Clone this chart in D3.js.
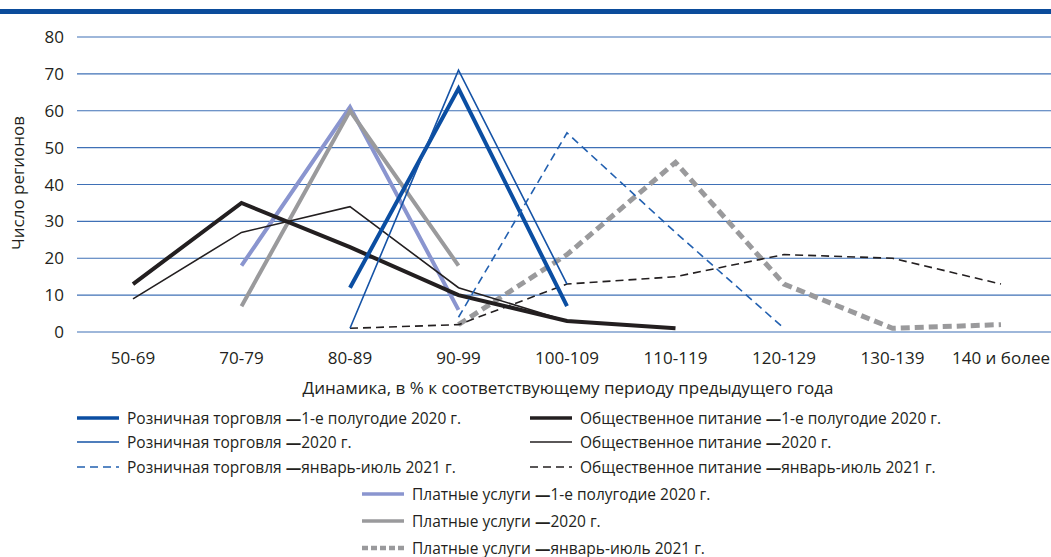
<!DOCTYPE html>
<html>
<head>
<meta charset="utf-8">
<script src="https://cdn.jsdelivr.net/npm/d3@7"></script>
<style>
  body { margin: 0; background: #fff; }
  svg text { font-family: "Open Sans", "Noto Sans", sans-serif; fill: #231f20; }
</style>
</head>
<body>
<div id="chart"></div>
<script>
// категории по оси X
const categories = ['50-69', '70-79', '80-89', '90-99', '100-109', '110-119', '120-129', '130-139', '140 и более']
const yTicks = [0, 10, 20, 30, 40, 50, 60, 70, 80]

// число регионов, null = нет точки
const retailH1 = [null, null, 12, 66, 7, null, null, null, null]
const retail2020 = [null, null, 1, 71, 13, null, null, null, null]
const retail2021 = [null, null, null, 4, 54, 27, 1, null, null]
const cateringH1 = [13, 35, 23, 10, 3, 1, null, null, null]
const catering2020 = [9, 27, 34, 12, 3, null, null, null, null]
const catering2021 = [null, null, 1, 2, 13, 15, 21, 20, 13]
const servicesH1 = [null, 18, 61, 6, null, null, null, null, null]
const services2020 = [null, 7, 60, 18, null, null, null, null, null]
const services2021 = [null, null, null, 2, 21, 46, 13, 1, 2]

const W = 1051, H = 557

const svg = d3.select('#chart').append('svg')
  .attr('width', W)
  .attr('height', H)

// верхняя синяя полоса
svg.append('rect')
  .attr('x', 0).attr('y', 9)
  .attr('width', W).attr('height', 5)
  .attr('fill', '#0b4c9b')

const x = d3.scalePoint()
  .domain(categories)
  .range([133, 1001])

const y = d3.scaleLinear()
  .domain([0, 80])
  .range([332, 37])

// сетка
svg.append('g')
  .selectAll('line')
  .data(yTicks)
  .enter()
  .append('line')
  .attr('x1', 77).attr('x2', W)
  .attr('y1', d => y(d)).attr('y2', d => y(d))
  .attr('stroke', '#3f70b6')
  .attr('stroke-width', 1.2)

// подписи оси Y
svg.append('g')
  .selectAll('text')
  .data(yTicks)
  .enter()
  .append('text')
  .attr('x', 64)
  .attr('y', d => y(d) + 6)
  .attr('text-anchor', 'end')
  .attr('font-size', 17)
  .text(d => d)

svg.append('text')
  .attr('transform', 'translate(24,' + 183 + ') rotate(-90)')
  .attr('text-anchor', 'middle')
  .attr('font-size', 17)
  .text('Число регионов')

// подписи оси X
svg.append('g')
  .selectAll('text')
  .data(categories)
  .enter()
  .append('text')
  .attr('x', d => x(d))
  .attr('y', 364)
  .attr('text-anchor', 'middle')
  .attr('font-size', 17)
  .text(d => d)

svg.append('text')
  .attr('x', 568)
  .attr('y', 394)
  .attr('text-anchor', 'middle')
  .attr('font-size', 17)
  .text('Динамика, в % к соответствующему периоду предыдущего года')

// серии
const series = [
  { name: 'Розничная торговля', period: '1-е полугодие 2020 г.', data: retailH1, color: '#0b4ea2', width: 4, dash: null },
  { name: 'Розничная торговля', period: '2020 г.', data: retail2020, color: '#1553a6', width: 1.6, dash: null },
  { name: 'Розничная торговля', period: 'январь-июль 2021 г.', data: retail2021, color: '#2260b0', width: 1.6, dash: '8,5' },
  { name: 'Общественное питание', period: '1-е полугодие 2020 г.', data: cateringH1, color: '#231f20', width: 4, dash: null },
  { name: 'Общественное питание', period: '2020 г.', data: catering2020, color: '#231f20', width: 1.6, dash: null },
  { name: 'Общественное питание', period: 'январь-июль 2021 г.', data: catering2021, color: '#231f20', width: 1.6, dash: '8,5' },
  { name: 'Платные услуги', period: '1-е полугодие 2020 г.', data: servicesH1, color: '#8a95cf', width: 4, dash: null },
  { name: 'Платные услуги', period: '2020 г.', data: services2020, color: '#9a9a9c', width: 4, dash: null },
  { name: 'Платные услуги', period: 'январь-июль 2021 г.', data: services2021, color: '#9a9a9c', width: 5, dash: '9,5' }
]

const line = d3.line()
  .defined(d => d.v !== null)
  .x(d => x(d.c))
  .y(d => y(d.v))

const drawOrder = [6, 7, 8, 3, 4, 5, 0, 1, 2]
drawOrder.forEach(i => {
  const s = series[i]
  const pts = categories.map((c, k) => ({ c: c, v: s.data[k] }))
  svg.append('path')
    .datum(pts)
    .attr('d', line)
    .attr('fill', 'none')
    .attr('stroke', s.color)
    .attr('stroke-width', s.width)
    .attr('stroke-dasharray', s.dash)
})

// легенда
const legendPos = [
  [77, 418], [77, 442], [77, 467],
  [530, 418], [530, 442], [530, 467],
  [362, 494], [362, 521], [362, 548]
]

series.forEach((s, i) => {
  const p = legendPos[i]
  const g = svg.append('g').attr('transform', 'translate(' + p[0] + ',' + p[1] + ')')
  g.append('line')
    .attr('x1', 0).attr('x2', 42)
    .attr('y1', 0).attr('y2', 0)
    .attr('stroke', s.color)
    .attr('stroke-width', s.width === 5 ? 4.5 : (s.width === 4 ? 3.5 : 1.6))
    .attr('stroke-dasharray', s.dash ? (s.width === 5 ? '6,3' : '8,5') : null)
  const t = g.append('text')
    .attr('x', 50)
    .attr('y', 5.5)
    .attr('font-size', 15.5)
  t.append('tspan').text(s.name + ' ')
  t.append('tspan').text('\u2014').attr('font-weight', 'bold')
  t.append('tspan').text(s.period)
})
</script>
</body>
</html>
